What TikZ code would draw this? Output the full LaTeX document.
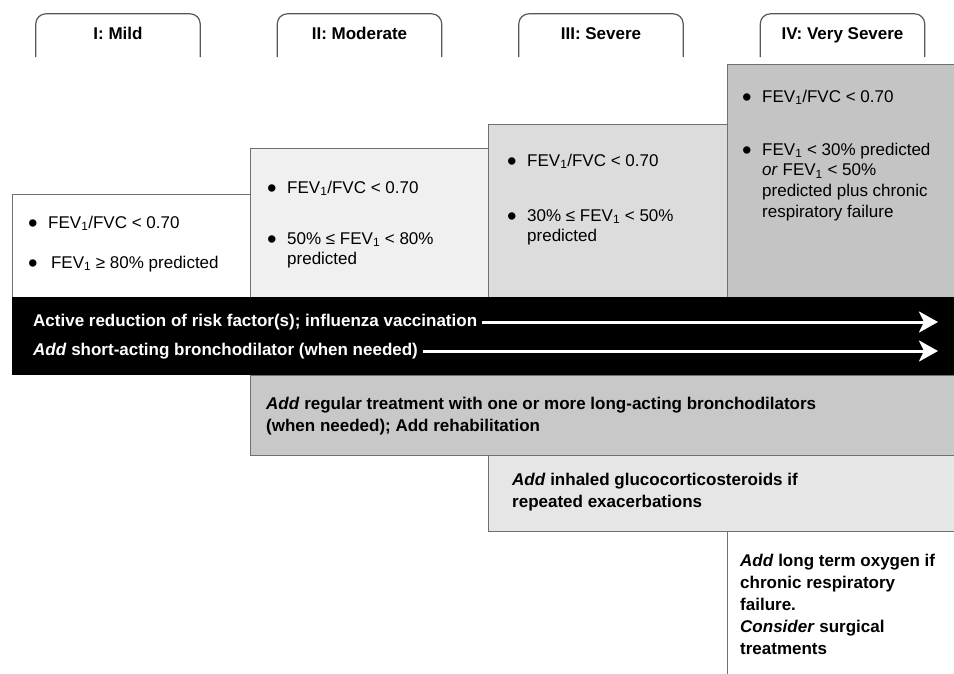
\documentclass[tikz,border=0pt]{standalone}
\usepackage{fontspec}
\setmainfont{Liberation Sans}
\usepackage{xcolor}
\usetikzlibrary{positioning}
\usetikzlibrary{arrows.meta}
\definecolor{stageone}{HTML}{FFFFFF}
\definecolor{stagetwo}{HTML}{F0F0F0}
\definecolor{stagethree}{HTML}{DCDCDC}
\definecolor{stagefour}{HTML}{C4C4C4}
\definecolor{treatgray}{HTML}{C8C8C8}
\definecolor{steroidgray}{HTML}{E6E6E6}
\definecolor{linegray}{HTML}{707070}
\definecolor{tabgray}{HTML}{585858}
\newcommand{\bul}{\strut\makebox[20pt][l]{\raisebox{-4.8pt}[0pt][0pt]{\scalebox{1.6}{\textbullet}}}}
\newcommand{\ind}{\hspace*{20pt}}
\newcommand{\fev}{FEV\textsubscript{1}}
\tikzstyle{tab} = [minimum width=164pt, minimum height=43pt, inner sep=0pt, text height=12pt, text depth=3.5pt, font=\fontsize{17}{20}\selectfont\bfseries]
\tikzstyle{tabline} = [draw=tabgray, line width=1.2pt, rounded corners=10pt]
\tikzstyle{stage} = [rectangle, anchor=north west, inner sep=0pt, outer sep=0pt, draw=linegray, line width=0.9pt]
\tikzstyle{item} = [anchor=north west, inner sep=0pt, align=left, font=\fontsize{17}{20.8}\selectfont]
\tikzstyle{bandtext} = [anchor=base west, inner xsep=5pt, inner ysep=0pt, text height=12pt, text depth=3pt, text=white, font=\fontsize{17}{20}\selectfont\bfseries]
\tikzstyle{treat} = [anchor=north west, inner sep=0pt, align=left, font=\fontsize{17}{22}\selectfont\bfseries]
\tikzstyle{arrow} = [draw=white, line width=3pt, -{Stealth[length=19pt, width=21pt, inset=5pt]}]

\begin{document}
\begin{tikzpicture}[x=1pt, y=-1pt, node distance=241.5pt]
    \useasboundingbox (0,0) rectangle (954,673);
    % stage headers
    \node (tab1) [tab] at (118,35.5) {I: Mild};
    \node (tab2) [tab, right of = tab1] {II: Moderate};
    \node (tab3) [tab, right of = tab2] {III: Severe};
    \node (tab4) [tab, right of = tab3] {IV: Very Severe};
    \foreach \t in {tab1,tab2,tab3,tab4}
        \draw [tabline] (\t.south west) -- (\t.north west) -- (\t.north east) -- (\t.south east);
    % spirometry boxes
    \node (s4) [stage, fill=stagefour, minimum width=240pt, minimum height=233pt] at (727,64) {};
    \node (s3) [stage, fill=stagethree, minimum width=239pt, minimum height=173pt] at (488,124) {};
    \node (s2) [stage, fill=stagetwo, minimum width=238pt, minimum height=149pt] at (250,148) {};
    \node (s1) [stage, fill=stageone, minimum width=238pt, minimum height=103pt] at (12,194) {};
    \node (s1a) [item] at (28,213.4) {\bul\fev/FVC < 0.70};
    \node (s1b) [item] at (28,253.4) {\bul\,\fev{} ≥ 80\% predicted};
    \node (s2a) [item] at (267,178.4) {\bul\fev/FVC < 0.70};
    \node (s2b) [item] at (267,229.4) {\bul 50\% ≤ \fev{} < 80\%\\\ind predicted};
    \node (s3a) [item] at (507,151.4) {\bul\fev/FVC < 0.70};
    \node (s3b) [item] at (507,206.4) {\bul 30\% ≤ \fev{} < 50\%\\\ind predicted};
    \node (s4a) [item] at (742,87.4) {\bul\fev/FVC < 0.70};
    \node (s4b) [item] at (742,140.4) {\bul\fev{} < 30\% predicted\\\ind\textit{or} \fev{} < 50\%\\\ind predicted plus chronic\\\ind respiratory failure};
    % treatment for all stages
    \node (band) [stage, draw=none, fill=black, minimum width=950pt, minimum height=78pt] at (12,297) {};
    \node (risk) [bandtext] at (28,326.5) {Active reduction of risk factor(s); influenza vaccination};
    \node (bron) [bandtext] at (28,355.5) {\textit{Add} short-acting bronchodilator (when needed)};
    \coordinate (riskend) at (938,322);
    \coordinate (bronend) at (938,351);
    \draw [arrow] (risk.east) -- (riskend);
    \draw [arrow] (bron.east) -- (bronend);
    % added treatments
    \node (t1) [stage, fill=treatgray, minimum width=710pt, minimum height=80pt] at (250,375) {};
    \node (t2) [stage, fill=steroidgray, minimum width=470pt, minimum height=76pt] at (488,455) {};
    \draw [draw=linegray, line width=0.9pt] (727,531) -- (727,680);
    \node (laba) [treat] at (266,394.1) {\strut\textit{Add} regular treatment with one or more long-acting bronchodilators\\(when needed); Add rehabilitation};
    \node (ics) [treat] at (512,470.1) {\strut\textit{Add} inhaled glucocorticosteroids if\\repeated exacerbations};
    \node (ltot) [treat] at (740,550.6) {\strut\textit{Add} long term oxygen if\\chronic respiratory\\failure.\\\textit{Consider} surgical\\treatments};
\end{tikzpicture}
\end{document}
